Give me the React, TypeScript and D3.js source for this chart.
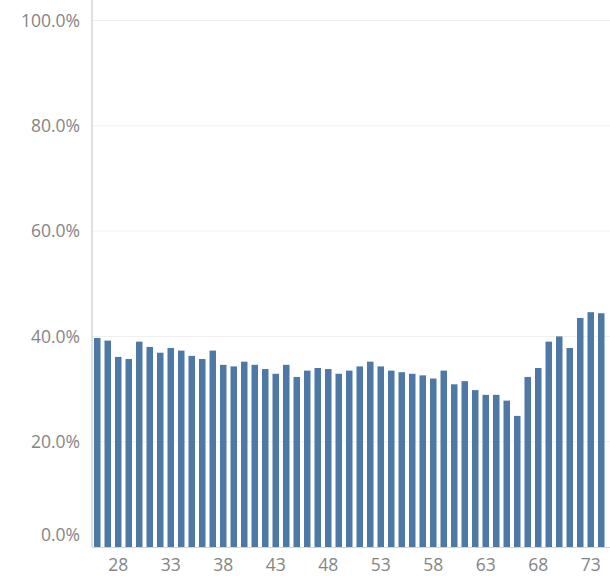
import React from "react";
import * as d3 from "d3";

const ages: number[] = d3.range(26, 75);
const values: number[] = [
  39.7, 39.2, 36.1, 35.7, 39.0, 38.0, 36.9, 37.8, 37.3, 36.3,
  35.7, 37.3, 34.6, 34.3, 35.2, 34.6, 33.8, 32.9, 34.6, 32.3,
  33.5, 34.0, 33.8, 32.9, 33.5, 34.3, 35.2, 34.3, 33.5, 33.2,
  32.9, 32.6, 32.0, 33.5, 30.9, 31.5, 29.8, 28.9, 28.9, 27.8,
  24.9, 32.3, 34.0, 39.0, 40.0, 37.8, 43.5, 44.6, 44.4,
];
const yTicks: number[] = [0, 20, 40, 60, 80, 100];
const xTickLabels: number[] = [28, 33, 38, 43, 48, 53, 58, 63, 68, 73];

const W = 610;
const H = 576;
const left = 92;
const right = 606.5;
const top = 20.5;
const bottom = 547;
const FONT = "'Open Sans', sans-serif";

export default function App() {
  const x = d3.scaleBand<number>().domain(ages).range([left, right]).paddingInner(0.38).paddingOuter(0.19);
  const y = d3.scaleLinear().domain([0, 100]).range([bottom, top]);
  const fmt = d3.format(".1f");

  return (
    <svg width={W} height={H} style={{ position: "absolute", left: 0, top: 0, background: "#fff" }}>
      {yTicks.map((t) => (
        <g key={t}>
          {t > 0 && <line x1={left} x2={W} y1={y(t)} y2={y(t)} stroke="#efefef" strokeWidth={1} />}
          <text x={80} y={t === 0 ? y(t) - 12 : y(t)} dy="0.36em" textAnchor="end" fontFamily={FONT} fontSize={17.5} fill="#858585">
            {fmt(t) + "%"}
          </text>
        </g>
      ))}
      {ages.map((a, i) => (
        <rect key={a} x={x(a)} y={y(values[i])} width={x.bandwidth()} height={bottom - y(values[i])} fill="#4e79a7" />
      ))}
      <line x1={left} x2={left} y1={0} y2={bottom} stroke="#d4d4d4" strokeWidth={1.5} />
      <line x1={left} x2={W} y1={bottom + 0.5} y2={bottom + 0.5} stroke="#d4d4d4" strokeWidth={1} />
      {xTickLabels.map((t) => (
        <text key={t} x={(x(t) as number) + x.bandwidth() / 2} y={565} dy="0.36em" textAnchor="middle" fontFamily={FONT} fontSize={17.5} fill="#858585">
          {t}
        </text>
      ))}
    </svg>
  );
}
